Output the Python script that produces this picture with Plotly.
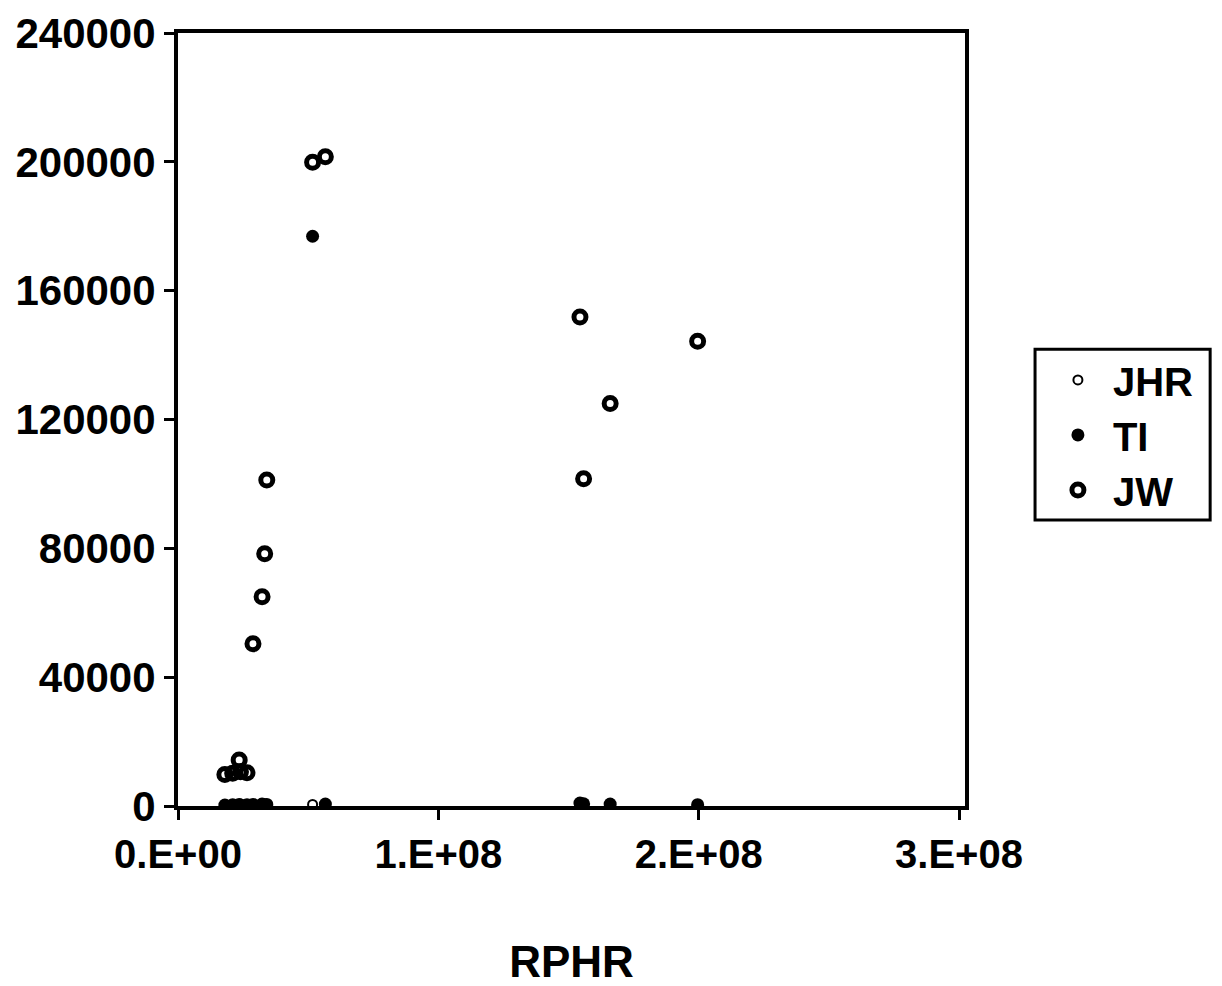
import plotly.graph_objects as go

# Data
rphr = [0.180e8, 0.210e8, 0.235e8, 0.240e8, 0.265e8, 0.288e8, 0.323e8, 0.333e8, 0.341e8,
        0.517e8, 0.566e8, 1.544e8, 1.558e8, 1.660e8, 1.996e8]
jw = [9800, 10200, 14300, 10600, 10300, 50400, 65000, 78300, 101200,
      199900, 201600, 151800, 101600, 125000, 144300]
ti = [300, 400, 500, 300, 400, 500, 600, 400, 500,
      176900, 600, 900, 700, 600, 400]
jhr = [200, 250, 300, 200, 300, 350, 400, 300, 350,
       500, 400, 700, 500, 400, 300]

x_tickvals = [0, 1e8, 2e8, 3e8]
x_ticktext = ["0.E+00", "1.E+08", "2.E+08", "3.E+08"]
y_tickvals = [0, 40000, 80000, 120000, 160000, 200000, 240000]
y_ticktext = ["0", "40000", "80000", "120000", "160000", "200000", "240000"]

FONT = "Liberation Sans, Arial, sans-serif"

fig = go.Figure()
fig.add_trace(go.Scatter(x=rphr, y=jhr, mode="markers", name="JHR",
                         marker=dict(symbol="circle-open", size=9, color="black",
                                     line=dict(width=2, color="black"))))
fig.add_trace(go.Scatter(x=rphr, y=ti, mode="markers", name="TI",
                         marker=dict(symbol="circle", size=13, color="black")))
fig.add_trace(go.Scatter(x=rphr, y=jw, mode="markers", name="JW",
                         marker=dict(symbol="circle-open", size=12, color="black",
                                     line=dict(width=5, color="black"))))

# legend frame (paper coordinates)
fig.add_shape(type="rect", xref="paper", yref="paper",
              x0=1.089, x1=1.3115, y0=0.370, y1=0.591,
              line=dict(color="black", width=3), fillcolor="rgba(0,0,0,0)")

fig.update_layout(
    width=1222, height=986,
    margin=dict(l=170, r=265, t=25, b=188),
    paper_bgcolor="white", plot_bgcolor="white",
    font=dict(family=FONT, size=40, color="black", weight="bold"),
    showlegend=True,
    legend=dict(x=1.099, y=0.48, xanchor="left", yanchor="middle",
                borderwidth=0, bgcolor="rgba(0,0,0,0)",
                font=dict(family=FONT, size=40, color="black", weight="bold"),
                itemsizing="trace", itemwidth=60),
)
fig.update_xaxes(range=[0, 3.023e8], tickvals=x_tickvals, ticktext=x_ticktext,
                 automargin=False,
                 showgrid=False, zeroline=False, showline=True, linecolor="black",
                 linewidth=4, mirror=True, ticks="outside", ticklen=10, tickwidth=3,
                 tickcolor="black", tickfont=dict(family=FONT, size=40, weight="bold"),
                 title=dict(text="RPHR", font=dict(family=FONT, size=44, weight="bold"),
                            standoff=72))
fig.update_yaxes(range=[0, 240000], tickvals=y_tickvals, ticktext=y_ticktext,
                 automargin=False,
                 showgrid=False, zeroline=False, showline=True, linecolor="black",
                 linewidth=4, mirror=True, ticks="outside", ticklen=10, tickwidth=3,
                 tickcolor="black", tickfont=dict(family=FONT, size=42, weight="bold"))

fig.write_html("out.html")
